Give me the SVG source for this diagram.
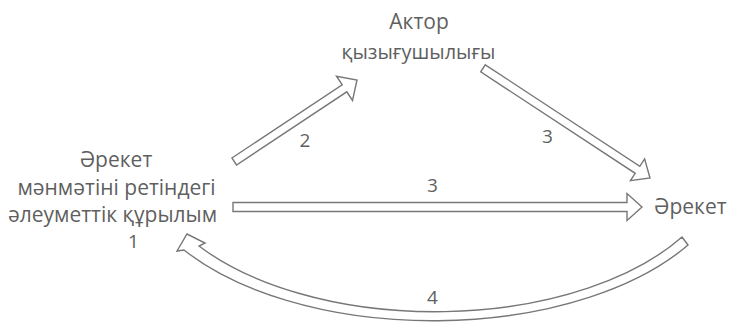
<svg xmlns="http://www.w3.org/2000/svg" width="730" height="328" viewBox="0 0 730 328">
<style>
.t{font-family:"Open Sans","Noto Sans",sans-serif;fill:#5f5f5f;text-anchor:middle}
.n{font-family:"Open Sans","Noto Sans",sans-serif;fill:#5f5f5f;font-size:19px;text-anchor:middle}
.a{fill:#ffffff;stroke:#777777;stroke-width:1.4;stroke-linejoin:miter}
</style>
<rect width="730" height="328" fill="#ffffff"/>
<g id="node-structure">
<text class="t" x="116" y="166.5" font-size="21">Әрекет</text>
<text class="t" x="116.5" y="195" font-size="21">мәнмәтіні ретіндегі</text>
<text class="t" x="112.5" y="221.5" font-size="21">әлеуметтік құрылым</text>
<text class="n" x="133.5" y="248">1</text>
</g>
<g id="node-actor">
<text class="t" x="419" y="28.5" font-size="21">Актор</text>
<text class="t" x="418.5" y="59" font-size="20">қызығушылығы</text>
</g>
<g id="node-action">
<text class="t" x="654" y="214" font-size="21" style="text-anchor:start">Әрекет</text>
</g>
<g id="connectors">
<polygon class="a" points="231.9,158 342.2,84.8 336.5,76.2 357,80 352.5,100.4 346.8,91.8 236.5,165"/>
<polygon class="a" points="485.3,64.8 639.8,166.3 644.6,158.9 650,178 630.4,180.7 635.2,173.3 480.7,71.8"/>
<polygon class="a" points="233,202.5 627,202.5 627,193.5 642,207 627,220.5 627,211.5 233,211.5"/>
<path class="a" d="M199,246 A290,157 0 0,0 682,237 L688,245 A300,160 0 0,1 184,250 L177,251 L187,234 L205,243 Z"/>
<text class="n" x="305" y="147">2</text>
<text class="n" x="547.5" y="143">3</text>
<text class="n" x="432.5" y="192">3</text>
<text class="n" x="432.5" y="304">4</text>
</g>
</svg>
